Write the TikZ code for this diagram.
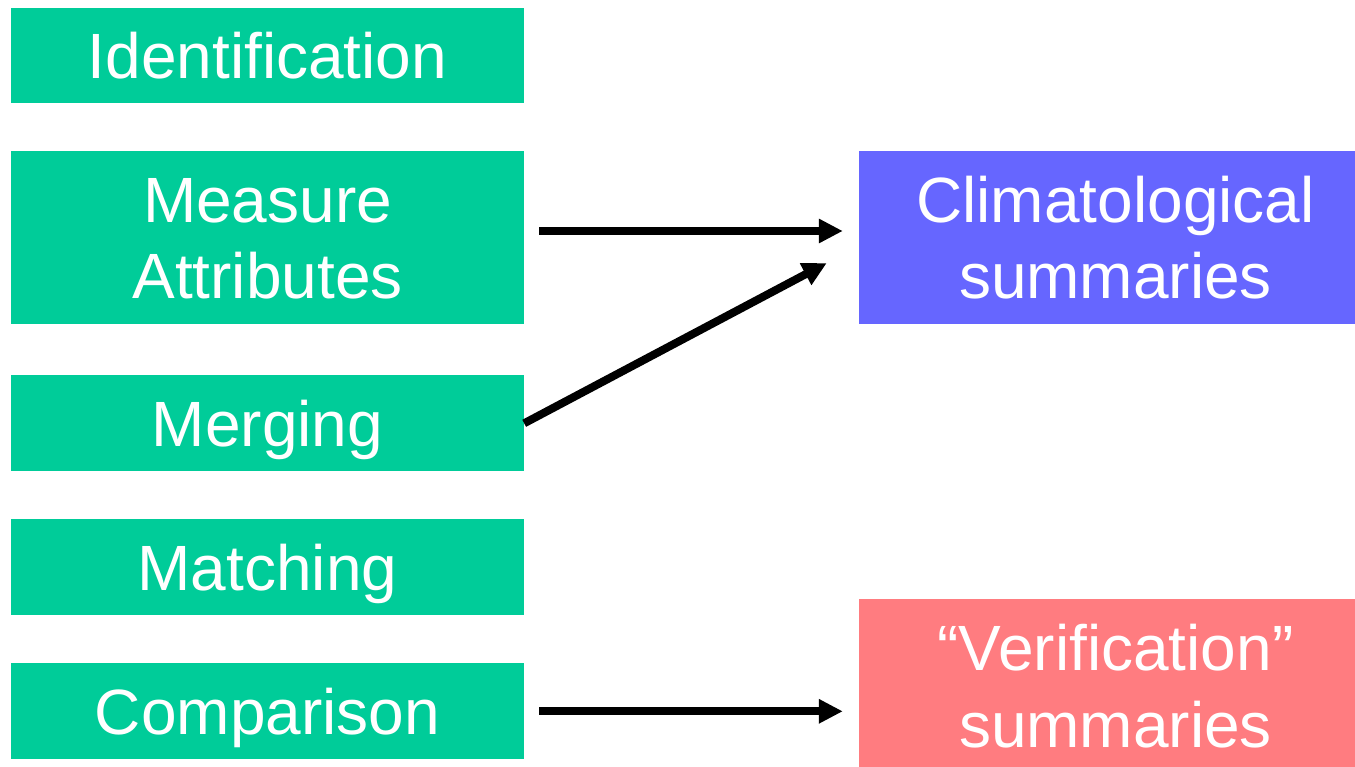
\documentclass[tikz,border=0pt]{standalone}
\usepackage{fontspec}
\setmainfont{Liberation Sans}
\usetikzlibrary{arrows.meta,calc}

\definecolor{stepgreen}{HTML}{00CC99}
\definecolor{climblue}{HTML}{6666FF}
\definecolor{verifred}{HTML}{FF7C80}

\tikzset{
  boxbase/.style={rectangle, inner sep=0pt, text=white,
    font=\fontsize{64}{76.7}\selectfont, text depth=0pt},
  oneline/.style={boxbase, text height=45.8pt},
  twoline/.style={boxbase, text height=122.5pt},
  stepbox/.style={fill=stepgreen, minimum width=513pt},
  flowarrow/.style={line width=8pt, -{Triangle[length=24pt,width=23pt]}},
}

\begin{document}
\begin{tikzpicture}[x=1pt, y=-1pt]
  \useasboundingbox (0,0) rectangle (1355,766);
  \clip (0,0) rectangle (1355,766);

  % processing steps
  \node[oneline, stepbox, minimum height=95pt] (ident) at (267.5,55.5) {Identification};
  \node[twoline, stepbox, minimum height=173pt] (measure) at (267.5,237.5)
    {\begin{tabular}[b]{@{}c@{}}Measure\\Attributes\end{tabular}};
  \node[oneline, stepbox, minimum height=96pt] (merge) at (267.5,423.3) {Merging};
  \node[oneline, stepbox, minimum height=96pt] (match) at (267.5,567.3) {Matching};
  \node[oneline, stepbox, minimum height=96pt] (compare) at (267.5,711.3) {Comparison};

  % outputs
  \node[twoline, fill=climblue, minimum width=513pt, minimum height=173pt] (clim) at (1115.5,237.5)
    {\begin{tabular}[b]{@{}c@{}}Climatological\\summaries\end{tabular}};
  \node[twoline, fill=verifred, minimum width=513pt, minimum height=173pt] (verif) at (1115.5,685.8)
    {\begin{tabular}[b]{@{}c@{}}“Verification”\\summaries\end{tabular}};

  % connectors
  \draw[flowarrow] ($(measure.east)+(15,-6.5)$) -- ($(clim.west)+(-16,-6.5)$);
  \draw[flowarrow] (merge.east) -- ($(clim.west)+(-32,25.5)$);
  \draw[flowarrow] ($(compare.east)+(15,0)$) -- ($(compare.east -| verif.west)+(-16,0)$);
\end{tikzpicture}
\end{document}
